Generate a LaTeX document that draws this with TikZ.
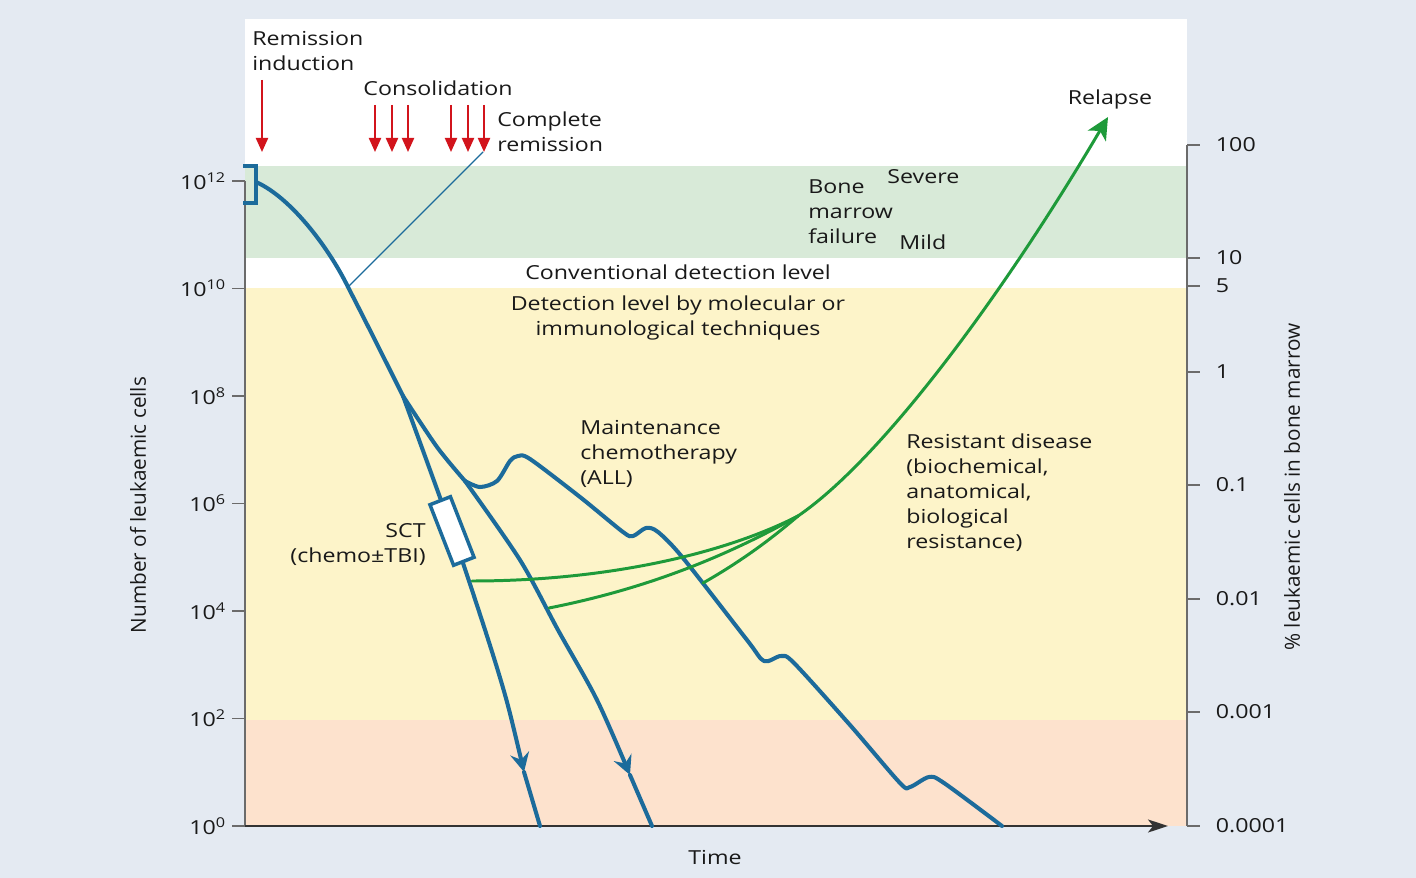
\documentclass[tikz,border=0pt]{standalone}
\usepackage{fontspec}
\setmainfont{Open Sans}[FakeStretch=1.2]
\newfontfamily\uprightsans{Open Sans}
\usetikzlibrary{arrows.meta, positioning}
\definecolor{pagebg}{HTML}{E4EAF2}
\definecolor{failband}{HTML}{D8EAD8}
\definecolor{detband}{HTML}{FDF4C9}
\definecolor{lowband}{HTML}{FDE2CD}
\definecolor{cellblue}{HTML}{1C6B9B}
\definecolor{relgreen}{HTML}{1E9A3A}
\definecolor{therred}{HTML}{D2141C}
\definecolor{axisgray}{HTML}{6B6B6B}

\begin{document}
\begin{tikzpicture}[
    x=0.02cm, y=-0.02cm,
    every node/.style={font=\fontsize{11}{14.2}\selectfont, text=black!90, inner sep=0pt},
    lbl/.style={align=left, anchor=west},
    axistitle/.style={rotate=90, font=\uprightsans\fontsize{11.8}{14}\selectfont},
    axisline/.style={draw=axisgray, line width=1.1pt},
    cell/.style={draw=cellblue, line width=2.3pt, line cap=round, line join=round},
    celltip/.style={-{Stealth[length=3.8mm, width=3.8mm, inset=1.3mm]}},
    regrow/.style={draw=relgreen, line width=1.7pt, line cap=round},
    therapy/.style={therred, line width=1.2pt, -{Triangle[length=2.8mm, width=2.4mm]}},
    sctbox/.style={draw=cellblue, fill=white, line width=2pt,
                   minimum width=1.3cm, minimum height=0.44cm}
]
    \useasboundingbox (0,0) rectangle (1416,878);
    \fill[pagebg] (0,0) rectangle (1416,878);

    % bands
    \fill[white] (245,19) rectangle (1187,826);
    \fill[failband] (245,166) rectangle (1187,258);
    \fill[detband] (245,288) rectangle (1187,720);
    \fill[lowband] (245,720) rectangle (1187,826);

    % axes
    \draw[axisline] (245,181) -- (245,826);
    \draw[axisline, -{Stealth[length=4mm, width=2.6mm, inset=1mm]}, draw=black!80] (245,826) -- (1168,826);
    \draw[axisline] (1187,145) -- (1187,826);
    \foreach \e in {0,2,...,12}
        \draw[axisline] (232,826-\e*53.75)
            node[anchor=east, xshift=-0.1cm] {10\textsuperscript{\e}} -- (245,826-\e*53.75);
    \foreach \v/\y in {100/145, 10/258, 5/286, 1/372, 0.1/485, 0.01/599, 0.001/712, 0.0001/826}
        \draw[axisline] (1187,\y) -- (1200,\y)
            node[anchor=west, xshift=0.3cm] {\v};

    \node[axistitle] (ylbl) at (138,505) {Number of leukaemic cells};
    \node[axistitle] (pctlbl) at (1292,487) {\% leukaemic cells in bone marrow};
    \node (timelbl) at (715,857) {Time};

    % zone labels
    \node (convdet) at (678,272) {Conventional detection level};
    \node[align=center] (moldet) at (678,318) {Detection level by molecular or\\immunological techniques};
    \node[lbl] (marrow) at (808,212) {Bone\\marrow\\failure};
    \node[lbl] (severe) at (887,177) {Severe};
    \node[lbl] (mild) at (899,242) {Mild};

    % therapy
    \node[lbl] (induct) at (252,51) {Remission\\induction};
    \node (consol) at (438,88) {Consolidation};
    \node[lbl] (remis) at (497,132) {Complete\\remission};
    \draw[therapy] (262,80) -- (262,152);
    \foreach \x in {375,392,408,451,468,484}
        \draw[therapy] (\x,105) -- (\x,152);

    % cell kill curves
    \coordinate (start) at (256,182);
    \coordinate (s1) at (403,396);
    \coordinate (s2) at (465,481);
    \coordinate (crem) at (348,287);
    \coordinate (sctc) at (452,531);
    \coordinate (tipa) at (524,772);
    \coordinate (tipb) at (630,775);
    \coordinate (enda) at (540,826);
    \coordinate (endb) at (652,826);
    \coordinate (endc) at (1002,826);

    \draw[cellblue, line width=2pt] (243,166) -- (256,166) -- (256,203) -- (243,203);
    \draw[cell] (start) .. controls (292,198) and (330,250) .. (crem)
        .. controls (366,322) and (385,360) .. (s1);
    \draw[cellblue, line width=0.8pt] (crem) -- (483,152);

    \draw[cell, celltip] plot[smooth] coordinates {(s1) (sctc) (487,636) (507,702) (tipa)};
    \draw[cell] (tipa) -- (enda);
    \draw[cell] plot[smooth] coordinates {(s1) (437,447) (s2)};
    \draw[cell, celltip] plot[smooth] coordinates {(s2) (520,560) (558,630) (597,700) (tipb)};
    \draw[cell] (tipb) -- (endb);
    \draw[cell] plot[smooth, tension=0.5] coordinates {(s2) (480,487) (497,481) (510,461) (518,456)
        (530,459) (580,497) (623,532) (633,536) (646,528) (658,532) (683,558) (747,640)
        (764,661) (781,656) (794,663) (850,725) (900,783) (910,787) (929,777) (944,783) (endc)};

    \node[sctbox, rotate=-68.7] (sct) at (sctc) {};
    \node[align=right, anchor=east] (sctlbl) at (426,545) {SCT\\(chemo±TBI)};
    \node[lbl] (maint) at (580,454) {Maintenance\\chemotherapy\\(ALL)};

    % resistant disease and relapse
    \coordinate (res) at (798,516);
    \draw[regrow] (472,581) .. controls (600,581) and (720,556) .. (res);
    \draw[regrow] (549,608) .. controls (640,590) and (720,560) .. (res);
    \draw[regrow] (703,583) .. controls (740,562) and (770,540) .. (res);
    \draw[regrow, -{Stealth[length=4.4mm, width=4.2mm, inset=1.2mm]}]
        (res) .. controls (880,460) and (1000,300) .. (1108,117);
    \node (relapse) at (1110,99) {Relapse};
    \node[lbl] (resist) at (906,493) {Resistant disease\\(biochemical,\\anatomical,\\biological\\resistance)};
\end{tikzpicture}
\end{document}
